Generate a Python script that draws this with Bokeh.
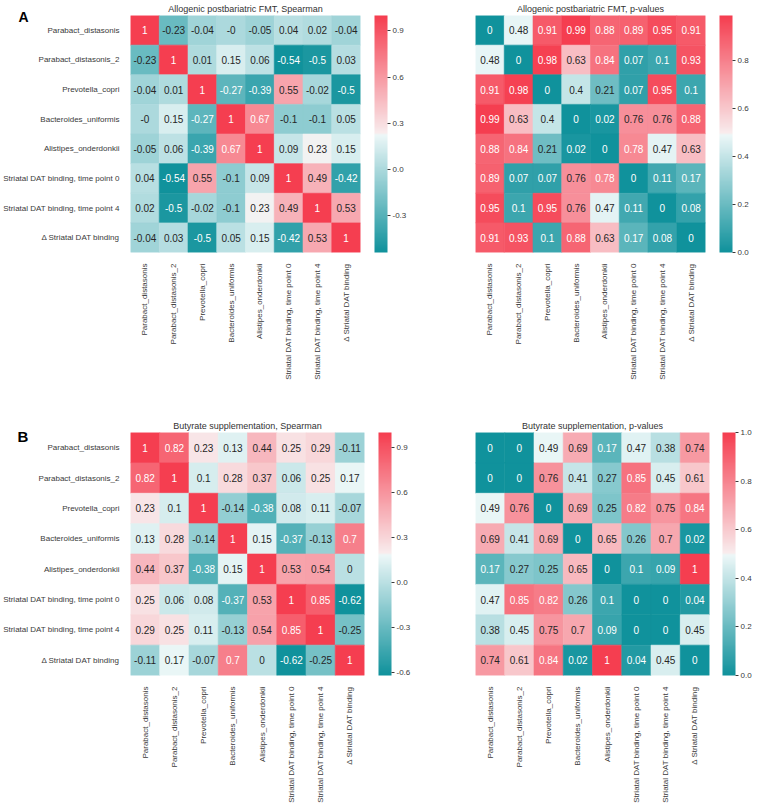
import colorsys
import numpy as np
from bokeh.plotting import figure
from bokeh.models import (ColumnDataSource, LinearColorMapper, ColorBar, FixedTicker,
                          PrintfTickFormatter)
from bokeh.layouts import row, column
from bokeh.embed import file_html
from bokeh.resources import INLINE
from bokeh.core.properties import value

labels = ["Parabact_distasonis", "Parabact_distasonis_2", "Prevotella_copri",
          "Bacteroides_uniformis", "Alistipes_onderdonkii",
          "Striatal DAT binding, time point 0", "Striatal DAT binding, time point 4",
          "\u0394 Striatal DAT binding"]

a_rho = [
    [1, -0.23, -0.04, -0.0, -0.05, 0.04, 0.02, -0.04],
    [-0.23, 1, 0.01, 0.15, 0.06, -0.54, -0.5, 0.03],
    [-0.04, 0.01, 1, -0.27, -0.39, 0.55, -0.02, -0.5],
    [-0.0, 0.15, -0.27, 1, 0.67, -0.1, -0.1, 0.05],
    [-0.05, 0.06, -0.39, 0.67, 1, 0.09, 0.23, 0.15],
    [0.04, -0.54, 0.55, -0.1, 0.09, 1, 0.49, -0.42],
    [0.02, -0.5, -0.02, -0.1, 0.23, 0.49, 1, 0.53],
    [-0.04, 0.03, -0.5, 0.05, 0.15, -0.42, 0.53, 1],
]
a_p = [
    [0, 0.48, 0.91, 0.99, 0.88, 0.89, 0.95, 0.91],
    [0.48, 0, 0.98, 0.63, 0.84, 0.07, 0.1, 0.93],
    [0.91, 0.98, 0, 0.4, 0.21, 0.07, 0.95, 0.1],
    [0.99, 0.63, 0.4, 0, 0.02, 0.76, 0.76, 0.88],
    [0.88, 0.84, 0.21, 0.02, 0, 0.78, 0.47, 0.63],
    [0.89, 0.07, 0.07, 0.76, 0.78, 0, 0.11, 0.17],
    [0.95, 0.1, 0.95, 0.76, 0.47, 0.11, 0, 0.08],
    [0.91, 0.93, 0.1, 0.88, 0.63, 0.17, 0.08, 0],
]
b_rho = [
    [1, 0.82, 0.23, 0.13, 0.44, 0.25, 0.29, -0.11],
    [0.82, 1, 0.1, 0.28, 0.37, 0.06, 0.25, 0.17],
    [0.23, 0.1, 1, -0.14, -0.38, 0.08, 0.11, -0.07],
    [0.13, 0.28, -0.14, 1, 0.15, -0.37, -0.13, 0.7],
    [0.44, 0.37, -0.38, 0.15, 1, 0.53, 0.54, 0],
    [0.25, 0.06, 0.08, -0.37, 0.53, 1, 0.85, -0.62],
    [0.29, 0.25, 0.11, -0.13, 0.54, 0.85, 1, -0.25],
    [-0.11, 0.17, -0.07, 0.7, 0, -0.62, -0.25, 1],
]
b_p = [
    [0, 0, 0.49, 0.69, 0.17, 0.47, 0.38, 0.74],
    [0, 0, 0.76, 0.41, 0.27, 0.85, 0.45, 0.61],
    [0.49, 0.76, 0, 0.69, 0.25, 0.82, 0.75, 0.84],
    [0.69, 0.41, 0.69, 0, 0.65, 0.26, 0.7, 0.02],
    [0.17, 0.27, 0.25, 0.65, 0, 0.1, 0.09, 1],
    [0.47, 0.85, 0.82, 0.26, 0.1, 0, 0, 0.04],
    [0.38, 0.45, 0.75, 0.7, 0.09, 0, 0, 0.45],
    [0.74, 0.61, 0.84, 0.02, 1, 0.04, 0.45, 0],
]

ticks_a_rho = [-0.3, 0.0, 0.3, 0.6, 0.9]
ticks_a_p = [0.0, 0.2, 0.4, 0.6, 0.8]
ticks_b_rho = [-0.6, -0.3, 0.0, 0.3, 0.6, 0.9]
ticks_b_p = [0.0, 0.2, 0.4, 0.6, 0.8, 1.0]

FONT = "Liberation Sans"
LABEL_COLOR = "#3a3a3a"

# ---- diverging palette (teal -> pale -> red) ----
TEAL = np.array([16, 146, 156], float)
RED = np.array([245, 62, 80], float)
MID = np.array([242, 242, 242], float)


def pale(rgb):
    h, l, s = colorsys.rgb_to_hls(*(rgb / 255.0))
    return np.array(colorsys.hls_to_rgb(h, 0.95, s * 0.55)) * 255


NH = 127
neg = [TEAL + (pale(TEAL) - TEAL) * t for t in np.linspace(0, 1, NH)]
pos = [pale(RED) + (RED - pale(RED)) * t for t in np.linspace(0, 1, NH)]
PAL_RGB = neg + [MID] + pos
PALETTE = ["#%02x%02x%02x" % tuple(int(round(c)) for c in col) for col in PAL_RGB]


def lum(rgb):
    c = np.asarray(rgb) / 255.0
    c = np.where(c <= 0.03928, c / 12.92, ((c + 0.055) / 1.055) ** 2.4)
    return 0.2126 * c[0] + 0.7152 * c[1] + 0.0722 * c[2]


def make(title, mat, ticks, fw, fh, bl, br, bt, bb, show_y, cb_gap=14):
    arr = np.array(mat, float)
    lo, hi = arr.min(), arr.max()
    mapper = LinearColorMapper(palette=PALETTE, low=lo, high=hi)
    xs, ys, vs, ts, tcs = [], [], [], [], []
    for i, rname in enumerate(labels):
        for j, cname in enumerate(labels):
            v = float(mat[i][j])
            xs.append(cname)
            ys.append(rname)
            vs.append(v)
            ts.append(f"{v:g}")
            idx = min(int((v - lo) / (hi - lo) * len(PALETTE)), len(PALETTE) - 1)
            tcs.append("#262626" if lum(PAL_RGB[idx]) > 0.408 else "#ffffff")
    src = ColumnDataSource(dict(x=xs, y=ys, v=vs, t=ts, tc=tcs))
    p = figure(x_range=labels, y_range=labels[::-1], frame_width=fw, frame_height=fh,
               min_border_left=bl, min_border_right=br, min_border_top=bt,
               min_border_bottom=bb, toolbar_location=None, output_backend="svg",
               title=title)
    p.rect(x="x", y="y", width=1, height=1, source=src,
           fill_color={"field": "v", "transform": mapper},
           line_color={"field": "v", "transform": mapper}, line_width=0.6)
    p.text(x="x", y="y", text="t", source=src, text_color="tc", text_align="center",
           text_baseline="middle", text_font_size="10px", text_font=value(FONT))
    p.title.align = "center"
    p.title.text_font_size = "9px"
    p.title.text_font_style = "normal"
    p.title.text_color = "#333333"
    p.title.text_font = FONT
    p.title.standoff = 3
    p.grid.visible = False
    p.outline_line_color = None
    p.axis.axis_line_color = None
    p.axis.major_tick_line_color = None
    p.axis.minor_tick_line_color = None
    p.axis.major_label_text_font_size = "8px"
    p.axis.major_label_text_font = FONT
    p.axis.major_label_text_color = LABEL_COLOR
    p.axis.major_label_standoff = 5
    p.xaxis.major_label_orientation = np.pi / 2
    if not show_y:
        p.yaxis.visible = False
    cb = ColorBar(color_mapper=mapper, ticker=FixedTicker(ticks=ticks),
                  formatter=PrintfTickFormatter(format="%.1f"),
                  width=13, height=fh, margin=0, padding=0,
                  location=(fw + cb_gap, 0),
                  major_tick_in=0, major_tick_out=3,
                  major_tick_line_color=LABEL_COLOR, bar_line_color=None,
                  border_line_color=None, background_fill_color=None,
                  major_label_text_font_size="8px", major_label_text_font=FONT,
                  major_label_text_color=LABEL_COLOR, label_standoff=2)
    p.add_layout(cb, "center")
    return p


def panel_tag(p, text, x, y, size):
    # panel letter drawn as the title of an invisible, tick-less colour bar
    tag = ColorBar(color_mapper=LinearColorMapper(palette=["#ffffff"], low=0, high=1),
                   ticker=FixedTicker(ticks=[]), width=1, height=1, scale_alpha=0,
                   orientation="horizontal",
                   title=text, title_text_font_size=size, title_text_font_style="bold",
                   title_text_color="#000000", title_text_font=FONT, title_standoff=0,
                   margin=0, padding=0, location=(x, y), bar_line_color=None,
                   border_line_color=None, background_fill_color=None,
                   major_tick_line_color=None)
    p.add_layout(tag, "center")


a1 = make("Allogenic postbariatric FMT, Spearman", a_rho, ticks_a_rho,
          230, 237, 124, 56, 12, 150, True)
a2 = make("Allogenic postbariatric FMT, p-values", a_p, ticks_a_p,
          230, 237, 59, 49, 12, 150, False)
b1 = make("Butyrate supplementation, Spearman", b_rho, ticks_b_rho,
          234, 243, 126, 47, 30, 122, True)
b2 = make("Butyrate supplementation, p-values", b_p, ticks_b_p,
          234, 243, 64, 43, 30, 122, False, cb_gap=13)

panel_tag(a1, "A", -112, 227, "14px")
panel_tag(b1, "B", -113, 230, "15px")

layout = column(row(a1, a2), row(b1, b2))

with open("out.html", "w") as f:
    f.write(file_html(layout, INLINE))
